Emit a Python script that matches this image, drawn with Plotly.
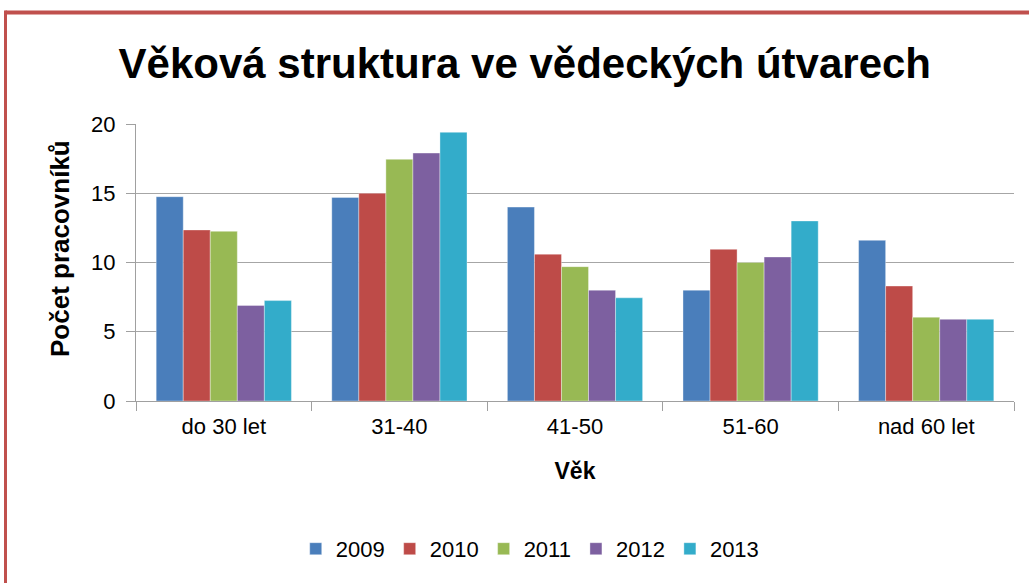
import plotly.graph_objects as go

categories = ["do 30 let", "31-40", "41-50", "51-60", "nad 60 let"]
years = ["2009", "2010", "2011", "2012", "2013"]
v2009 = [14.75, 14.7, 14.0, 8.0, 11.6]
v2010 = [12.35, 15.0, 10.6, 10.95, 8.3]
v2011 = [12.25, 17.45, 9.7, 10.0, 6.05]
v2012 = [6.9, 17.9, 8.0, 10.4, 5.9]
v2013 = [7.25, 19.4, 7.45, 13.0, 5.9]
series = [v2009, v2010, v2011, v2012, v2013]
colors = ["#4a7ebb", "#be4b48", "#98b954", "#7d60a0", "#33acca"]

font = "Liberation Sans"

fig = go.Figure()
for name, vals, c in zip(years, series, colors):
    fig.add_trace(go.Bar(x=categories, y=vals, name=name,
                         marker=dict(color=c, line=dict(width=0.6, color="rgba(255,255,255,0.6)"))))

fig.update_layout(
    width=1029, height=583,
    paper_bgcolor="white", plot_bgcolor="white",
    margin=dict(l=136, r=15, t=124, b=182),
    barmode="group", bargap=0.23, bargroupgap=0,
    title=dict(text="<b>Věková struktura ve vědeckých útvarech</b>",
               font=dict(family=font, size=42, color="black"),
               x=0.510, xanchor="center", y=0.892, yanchor="middle"),
    font=dict(family=font, color="black"),
    legend=dict(orientation="h", x=0.449, xanchor="center", y=-0.534, yanchor="middle",
                font=dict(family=font, size=22, color="black"), traceorder="normal",
                itemwidth=30),
    showlegend=True,
)
fig.update_xaxes(
    type="category", range=[-0.5, 4.5],
    showline=True, linecolor="#a0a0a0", linewidth=1,
    ticks="outside", tickson="boundaries", ticklen=9, tickcolor="#a0a0a0",
    ticklabelstandoff=6,
    tickfont=dict(family=font, size=22, color="black"),
    title=dict(text="<b>Věk</b>", font=dict(family=font, size=23, color="black"), standoff=24),
    showgrid=False,
)
fig.update_yaxes(
    range=[0, 20], tickvals=[0, 5, 10, 15, 20],
    showline=True, linecolor="#a0a0a0", linewidth=1,
    ticks="outside", ticklen=9, tickcolor="#a0a0a0",
    ticklabelstandoff=6,
    showgrid=True, gridcolor="#a6a6a6", gridwidth=1,
    zeroline=False,
    tickfont=dict(family=font, size=22, color="black"),
)

# y-axis title (placed like the original, slightly above the plot centre)
fig.add_annotation(text="<b>Počet pracovníků</b>", xref="paper", yref="paper",
                   x=(60 - 136) / 878, y=(401 - 249) / 277, textangle=-90,
                   showarrow=False, xanchor="center", yanchor="middle",
                   font=dict(family=font, size=26, color="black"))

# red frame of the original slide (left and top edges)
fig.add_shape(type="line", xref="paper", yref="paper",
              x0=(5.5 - 136) / 878, x1=(1040 - 136) / 878,
              y0=(401 - 12.5) / 277, y1=(401 - 12.5) / 277,
              line=dict(color="#c0504d", width=4))
fig.add_shape(type="line", xref="paper", yref="paper",
              x0=(5.5 - 136) / 878, x1=(5.5 - 136) / 878,
              y0=(401 - 10.5) / 277, y1=(401 - 600) / 277,
              line=dict(color="#c0504d", width=3))

fig.write_html("out.html", config={"displayModeBar": False},
               post_script="document.body.style.margin='0';")
